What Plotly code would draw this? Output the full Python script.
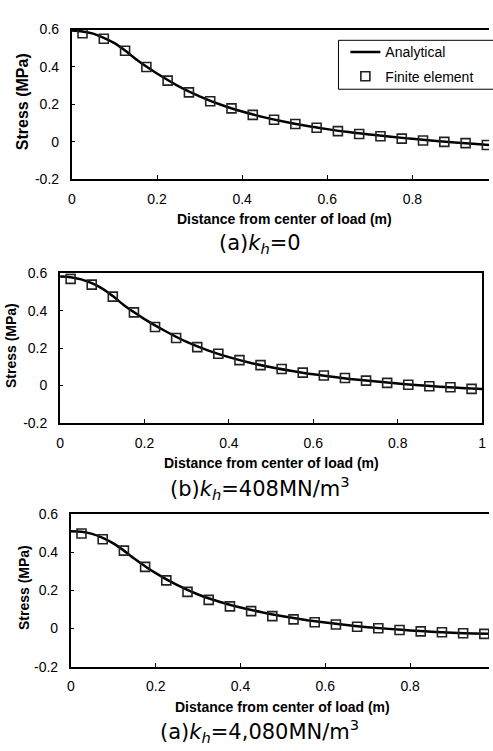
import plotly.graph_objects as go

# finite element points (every 0.05 m starting at 0.025)
fe_x = [0.025, 0.075, 0.125, 0.175, 0.225, 0.275, 0.325, 0.375, 0.425, 0.475,
        0.525, 0.575, 0.625, 0.675, 0.725, 0.775, 0.825, 0.875, 0.925, 0.975]
fe_a = [0.580, 0.551, 0.487, 0.400, 0.327, 0.264, 0.217, 0.179, 0.144, 0.118,
        0.095, 0.075, 0.057, 0.042, 0.030, 0.017, 0.007, 0.000, -0.007, -0.017]
fe_b = [0.570, 0.539, 0.475, 0.391, 0.313, 0.254, 0.205, 0.170, 0.136, 0.109,
        0.088, 0.069, 0.054, 0.040, 0.026, 0.014, 0.004, -0.004, -0.009, -0.018]
fe_c = [0.498, 0.468, 0.408, 0.323, 0.252, 0.192, 0.150, 0.116, 0.091, 0.065,
        0.048, 0.033, 0.021, 0.009, 0.001, -0.008, -0.015, -0.020, -0.025, -0.028]

# analytical curve
an_x = [0, 0.025, 0.05, 0.075, 0.1, 0.125, 0.15, 0.175, 0.2, 0.25, 0.3, 0.35, 0.4,
        0.45, 0.5, 0.55, 0.6, 0.65, 0.7, 0.75, 0.8, 0.85, 0.9, 0.95, 1.0]
an_a = [0.595, 0.590, 0.578, 0.556, 0.527, 0.488, 0.443, 0.402, 0.365, 0.298, 0.243,
        0.198, 0.162, 0.132, 0.107, 0.086, 0.068, 0.052, 0.039, 0.027, 0.016, 0.006,
        -0.003, -0.012, -0.021]
an_b = [0.583, 0.579, 0.567, 0.547, 0.518, 0.478, 0.432, 0.392, 0.355, 0.290, 0.233,
        0.188, 0.152, 0.122, 0.098, 0.078, 0.060, 0.045, 0.032, 0.021, 0.011, 0.002,
        -0.006, -0.013, -0.019]
an_c = [0.510, 0.507, 0.496, 0.475, 0.446, 0.408, 0.365, 0.326, 0.290, 0.228, 0.178,
        0.140, 0.110, 0.085, 0.064, 0.046, 0.031, 0.018, 0.007, -0.002, -0.010, -0.017,
        -0.022, -0.026, -0.029]

y_ticks = [-0.2, 0, 0.2, 0.4, 0.6]
y_text = ["-0.2", "0", "0.2", "0.4", "0.6"]
x_ticks = [0, 0.2, 0.4, 0.6, 0.8, 1.0]
x_text = ["0", "0.2", "0.4", "0.6", "0.8", "1"]

captions = ["(a)<i>k<sub>h</sub></i>=0",
            "(b)<i>k<sub>h</sub></i>=408MN/m<sup>3</sup>",
            "(a)<i>k<sub>h</sub></i>=4,080MN/m<sup>3</sup>"]

W, H = 493, 751
# plot boxes in pixels: left, right, top, bottom, x max shown, y-title x, y-title size
boxes = [(69, 493, 22, 175, 0.980, 19, 16),
         (57, 486, 271, 424, 1.0, 7, 14),
         (68, 493, 517, 673, 0.986, 21, 14)]

fig = go.Figure()
lines = [an_a, an_b, an_c]
points = [fe_a, fe_b, fe_c]

for i in range(3):
    xa = "x" if i == 0 else f"x{i+1}"
    ya = "y" if i == 0 else f"y{i+1}"
    fig.add_trace(go.Scatter(x=an_x, y=lines[i], mode="lines", name="Analytical",
                             legendgroup="an",
                             line=dict(color="black", width=2.5, shape="spline"),
                             showlegend=(i == 0), xaxis=xa, yaxis=ya))
    fig.add_trace(go.Scatter(x=fe_x, y=points[i], mode="markers", name="Finite element",
                             legendgroup="fe",
                             marker=dict(symbol="square-open", size=9, color="#222",
                                         line=dict(width=1.6, color="#222")),
                             showlegend=(i == 0), xaxis=xa, yaxis=ya))

tick_font = dict(family="Liberation Sans, Arial", size=14, color="black")

layout = dict(width=W, height=H, margin=dict(l=0, r=0, t=0, b=0),
              paper_bgcolor="white", plot_bgcolor="white", autosize=False)
annotations = []
for i, (l, r, t, b, xmax, ytx, yts) in enumerate(boxes):
    sx = "xaxis" if i == 0 else f"xaxis{i+1}"
    sy = "yaxis" if i == 0 else f"yaxis{i+1}"
    yid = "y" if i == 0 else f"y{i+1}"
    xid = "x" if i == 0 else f"x{i+1}"
    layout[sx] = dict(domain=[l / W, r / W], range=[0, xmax], anchor=yid,
                      tickvals=x_ticks, ticktext=x_text, ticks="inside", ticklen=4,
                      tickcolor="black", showline=True, linecolor="black", linewidth=2,
                      mirror=True, showgrid=False, zeroline=False, tickfont=tick_font,
                      ticklabelstandoff=6)
    layout[sy] = dict(domain=[1 - b / H, 1 - t / H], range=[-0.2, 0.6], anchor=xid,
                      tickvals=y_ticks, ticktext=y_text, ticks="inside", ticklen=3,
                      tickcolor="black", showline=True, linecolor="black", linewidth=2,
                      mirror=(i == 1), showgrid=False, zeroline=False, tickfont=tick_font,
                      ticklabelstandoff=8)
    # axis titles
    xc = (l + (l + (r - l) / xmax)) / 2
    annotations.append(dict(text="<b>Distance from center of load (m)</b>",
                            x=xc / W, y=1 - (b + 41) / H, xref="paper", yref="paper",
                            showarrow=False, xanchor="center", yanchor="middle",
                            font=dict(family="Liberation Sans, Arial", size=14, color="black")))
    annotations.append(dict(text="<b>Stress (MPa)</b>", textangle=-90,
                            x=ytx / W, y=1 - ((t + b) / 2 - 3) / H, xref="paper", yref="paper",
                            showarrow=False, xanchor="center", yanchor="middle",
                            font=dict(family="Liberation Sans, Arial", size=yts, color="black")))
    annotations.append(dict(text=captions[i], x=260 / W, y=1 - (b + 66) / H,
                            xref="paper", yref="paper", showarrow=False,
                            font=dict(family="DejaVu Sans", size=21, color="black"),
                            xanchor="center", yanchor="middle"))

layout["annotations"] = annotations
# legend frame runs past the right edge as in the original
layout["shapes"] = [dict(type="rect", xref="paper", yref="paper",
                         x0=340 / W, x1=1.02, y0=1 - 83 / H, y1=1 - 33 / H,
                         line=dict(color="black", width=1), fillcolor="white", layer="below")]
layout["legend"] = dict(x=347 / W, y=1 - 29 / H, xanchor="left", yanchor="top",
                        borderwidth=0, bgcolor="rgba(0,0,0,0)",
                        traceorder="grouped", tracegroupgap=3,
                        font=dict(family="Liberation Sans, Arial", size=14, color="black"))
fig.update_layout(**layout)

fig.write_html("out.html", config={"displayModeBar": False},
               post_script="document.body.style.margin='0';")
